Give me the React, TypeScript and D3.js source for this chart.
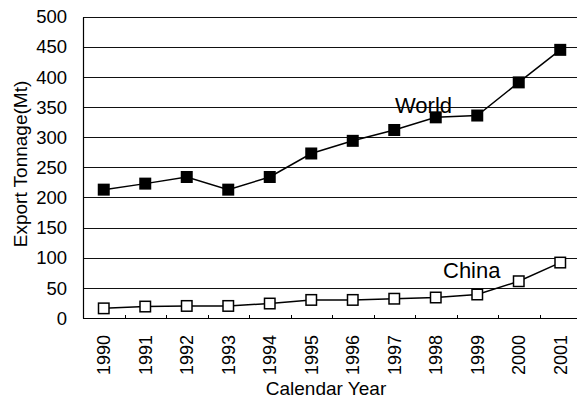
import React from "react";
import * as d3 from "d3";

const years = ["1990","1991","1992","1993","1994","1995","1996","1997","1998","1999","2000","2001"];
const world = [213, 223, 234, 213, 234, 273, 294, 312, 333, 336, 391, 445];
const china = [16, 19, 20, 20, 24, 30, 30, 32, 34, 39, 61, 92];
const yTicks = [0, 50, 100, 150, 200, 250, 300, 350, 400, 450, 500];

const W = 577, H = 398;
const left = 83, right = 581, top = 16.7, bottom = 318;
const FONT = "'Liberation Sans', Arial, sans-serif";

export default function App() {
  const x = d3.scaleBand().domain(years).range([left, right]).padding(0);
  const y = d3.scaleLinear().domain([0, 500]).range([bottom, top]);
  const cx = (d: string) => (x(d) as number) + x.bandwidth() / 2;
  const line = d3.line<number>().x((_, i) => cx(years[i])).y(v => y(v));
  const ms = 12;
  return (
    <svg width={W} height={H} style={{ position: "absolute", left: 0, top: 0, background: "#fff" }}>
      <rect width={W} height={H} fill="#fff" />
      {yTicks.map(t => (
        <line key={"g" + t} x1={left} x2={right} y1={Math.round(y(t)) + 0.5} y2={Math.round(y(t)) + 0.5} stroke="#111" strokeWidth={1} />
      ))}
      <line x1={left + 0.5} x2={left + 0.5} y1={Math.round(y(500)) + 0.5} y2={Math.round(y(0)) + 0.5} stroke="#000" strokeWidth={1.2} />
      <line x1={left} x2={right} y1={Math.round(y(0)) + 0.5} y2={Math.round(y(0)) + 0.5} stroke="#000" strokeWidth={1.2} />
      {years.slice(1).map(d => (
        <line key={"t" + d} x1={Math.round(x(d) as number) + 0.5} x2={Math.round(x(d) as number) + 0.5} y1={Math.round(y(0)) - 3} y2={Math.round(y(0))} stroke="#000" strokeWidth={1} />
      ))}
      {yTicks.map(t => (
        <text key={"yl" + t} x={67} y={y(t)} dy="0.36em" textAnchor="end" fontFamily={FONT} fontSize={18.5} fill="#000">{t}</text>
      ))}
      {years.map(d => (
        <text key={"xl" + d} transform={`translate(${cx(d) + 6.5},${335}) rotate(-90)`} textAnchor="end" fontFamily={FONT} fontSize={18} fill="#000">{d}</text>
      ))}
      <text transform={`translate(${27},${164}) rotate(-90)`} textAnchor="middle" fontFamily={FONT} fontSize={19} fill="#000">Export Tonnage(Mt)</text>
      <text x={326} y={395} textAnchor="middle" fontFamily={FONT} fontSize={19} fill="#000">Calendar Year</text>
      <path d={line(world) || ""} fill="none" stroke="#000" strokeWidth={1.5} />
      <path d={line(china) || ""} fill="none" stroke="#000" strokeWidth={1.5} />
      {world.map((v, i) => (
        <rect key={"w" + i} x={cx(years[i]) - ms / 2} y={y(v) - ms / 2} width={ms} height={ms} fill="#000" />
      ))}
      {china.map((v, i) => (
        <rect key={"c" + i} x={cx(years[i]) - ms / 2 + 0.75} y={y(v) - ms / 2 + 0.75} width={ms - 1.5} height={ms - 1.5} fill="#fff" stroke="#000" strokeWidth={1.5} />
      ))}
      <text x={395} y={113} fontFamily={FONT} fontSize={22} fill="#000">World</text>
      <text x={443} y={278} fontFamily={FONT} fontSize={22} fill="#000">China</text>
    </svg>
  );
}
